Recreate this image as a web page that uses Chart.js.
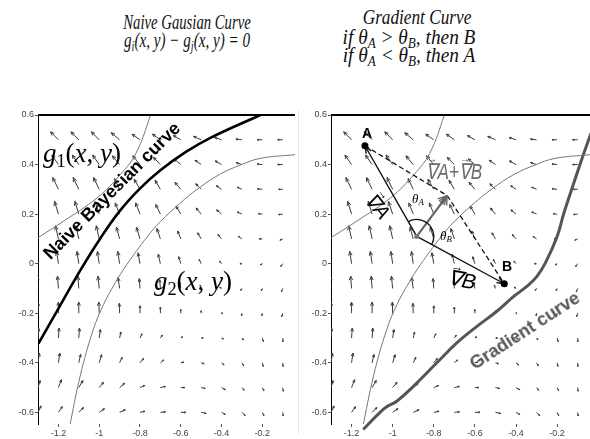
<!DOCTYPE html>
<html>
<head>
<meta charset="utf-8">
<script src="https://cdn.jsdelivr.net/npm/chart.js@4.4.0/dist/chart.umd.min.js"></script>
<style>
  html, body { margin: 0; padding: 0; background: #fff; }
  #page { position: relative; width: 590px; height: 439px; overflow: hidden; }
  canvas { position: absolute; top: 100px; }
  #naiveChart { left: 0; }
  #gradChart { left: 298px; }
  .divider { position: absolute; left: 298px; top: 110px; width: 1px; height: 324px; background: #e6e6e6; }
  .lbl { position: absolute; white-space: nowrap; transform-origin: 50% 50%; line-height: 1; }
  .title { font-family: "Liberation Serif", serif; font-style: italic; font-size: 21px; color: #111; }
  .math { font-family: "Liberation Serif", serif; color: #000; }
  .sub { font-size: 0.68em; position: relative; top: 0.28em; }
  .vec { position: relative; display: inline-block; }
  .vec::after { content: "\2192"; position: absolute; left: 0.08em; top: -0.58em; font-size: 0.6em; font-style: normal; }
</style>
</head>
<body>
<div id="page">
  <div class="lbl title" style="left:187px; top:22px; transform:translate(-50%,-50%) scaleX(0.70);">Naive Gausian Curve</div>
  <div class="lbl title" style="left:187px; top:40px; transform:translate(-50%,-50%) scaleX(0.72);"><i>g</i><span class="sub">i</span>(<i>x</i>, <i>y</i>) − <i>g</i><span class="sub">j</span>(<i>x</i>, <i>y</i>) = 0</div>

  <div class="lbl title" style="left:417px; top:17px; transform:translate(-50%,-50%) scaleX(0.82);">Gradient Curve</div>
  <div class="lbl title" style="left:409px; top:37px; transform:translate(-50%,-50%) scaleX(0.92);">if θ<span class="sub">A</span> &gt; θ<span class="sub">B</span>, then B</div>
  <div class="lbl title" style="left:409px; top:55px; transform:translate(-50%,-50%) scaleX(0.92);">if θ<span class="sub">A</span> &lt; θ<span class="sub">B</span>, then A</div>

  <canvas id="naiveChart" width="298" height="339"></canvas>
  <div class="divider"></div>
  <canvas id="gradChart" width="292" height="339"></canvas>

  <!-- left panel labels -->
  <div class="lbl math" style="left:82px; top:153px; font-size:27px; transform:translate(-50%,-50%);"><i>g</i><span class="sub" style="font-style:normal">1</span>(<i>x</i>, <i>y</i>)</div>
  <div class="lbl math" style="left:193px; top:281px; font-size:27px; transform:translate(-50%,-50%);"><i>g</i><span class="sub" style="font-style:normal">2</span>(<i>x</i>, <i>y</i>)</div>
  <div class="lbl" style="left:112px; top:191px; font:bold 18px 'Liberation Sans', Arial, sans-serif; color:#000; transform:translate(-50%,-50%) rotate(-45deg);">Naive Bayesian curve</div>

  <!-- right panel labels -->
  <div class="lbl" style="left:367px; top:133px; font:bold 14px 'Liberation Sans', Arial, sans-serif; transform:translate(-50%,-50%);">A</div>
  <div class="lbl" style="left:507px; top:266px; font:bold 14px 'Liberation Sans', Arial, sans-serif; transform:translate(-50%,-50%);">B</div>
  <div class="lbl" style="left:378px; top:206px; font:italic 20px 'Liberation Sans', Arial, sans-serif; transform:translate(-50%,-50%) rotate(52deg);"><span class="vec">∇</span>A</div>
  <div class="lbl" style="left:462px; top:280px; font:italic 21px 'Liberation Sans', Arial, sans-serif; transform:translate(-50%,-50%) rotate(10deg);"><span class="vec">∇</span>B</div>
  <div class="lbl" style="left:454px; top:172px; font:italic 22px 'Liberation Sans', Arial, sans-serif; color:#6a6a6a; transform:translate(-50%,-50%) scaleX(0.78);"><span class="vec">∇</span>A+<span class="vec">∇</span>B</div>
  <div class="lbl" style="left:418px; top:199px; font:italic 13px 'Liberation Serif', serif; transform:translate(-50%,-50%);">θ<span class="sub">A</span></div>
  <div class="lbl" style="left:446px; top:236px; font:italic 13px 'Liberation Serif', serif; transform:translate(-50%,-50%);">θ<span class="sub">B</span></div>
  <div class="lbl" style="left:525px; top:331px; font:bold 18px 'Liberation Sans', Arial, sans-serif; color:#555; transform:translate(-50%,-50%) rotate(-33deg);">Gradient curve</div>
</div>

<script>
// axis ticks
const xTicks = [-1.2, -1, -0.8, -0.6, -0.4, -0.2];
const yTicks = [-0.6, -0.4, -0.2, 0, 0.2, 0.4, 0.6];

// vector field grid (rows top to bottom)
const fieldX = [-1.3, -1.2, -1.1, -1.0, -0.9, -0.8, -0.7, -0.6, -0.5, -0.4, -0.3, -0.2, -0.1];
const fieldY = [0.6, 0.5, 0.4, 0.3, 0.2, 0.1, 0, -0.1, -0.2, -0.3, -0.4, -0.5, -0.6];

// arrow direction in degrees (0 = right, 90 = up)
const fieldAngle = [
  [130, 130, 135, 140, 145, 150, 155, 160, 165, 170, 175, 180, 180],
  [140, 140, 140, 140, 145, 150, 150, 155, 160, 165, 175, 180, 180],
  [130, 130, 130, 130, 135, 135, 140, 145, 150, 155, 165, 175, 180],
  [120, 120, 120, 120, 120, 125, 125, 135, 140, 150, 160, 175, 180],
  [110, 110, 110, 112, 115, 115, 120, 125, 135, 145, 160, 175, 185],
  [105, 105, 105, 105, 108, 110, 112, 115, 125, 135, 150, 180, 200],
  [100, 100, 100, 100, 100, 102, 105, 110, 120, 135, 180, 210, 230],
  [95, 95, 95, 97, 100, 95, 95, 100, 110, 150, 230, 240, 245],
  [90, 90, 90, 92, 92, 90, 90, 90, 90, 0, 260, 255, 250],
  [85, 85, 85, 80, 75, 60, 50, 30, 0, -20, -45, -70, -85],
  [80, 80, 75, 70, 60, 45, 35, 10, -15, -35, -55, -75, -85],
  [70, 65, 55, 45, 35, 20, 10, 0, -10, -25, -45, -60, -80],
  [60, 50, 40, 30, 20, 10, 5, 0, -10, -25, -40, -60, -80]
];

// arrow magnitude
const fieldLen = [
  [9, 9, 9, 9, 9, 8, 8, 7, 6, 6, 5, 5, 5],
  [10, 10, 10, 10, 10, 9, 9, 8, 8, 7, 6, 5, 5],
  [10, 10, 10, 10, 10, 10, 9, 8, 7, 7, 6, 5, 5],
  [11, 11, 11, 11, 10, 10, 9, 8, 7, 6, 5, 5, 4],
  [11, 11, 11, 11, 10, 10, 9, 8, 7, 6, 5, 4, 4],
  [11, 11, 11, 11, 10, 10, 9, 7, 6, 5, 4, 3, 3],
  [10, 10, 10, 10, 10, 9, 8, 6, 4, 3, 2, 2, 3],
  [10, 10, 10, 10, 9, 8, 7, 5, 3, 2, 2, 2, 3],
  [9, 9, 9, 9, 8, 6, 5, 3, 2, 1, 2, 2, 3],
  [8, 8, 8, 7, 5, 4, 3, 2, 2, 2, 2, 3, 3],
  [8, 8, 7, 7, 5, 5, 4, 3, 3, 3, 3, 3, 3],
  [6, 7, 7, 6, 6, 5, 5, 4, 4, 4, 3, 3, 3],
  [6, 6, 6, 6, 6, 5, 5, 5, 5, 4, 4, 3, 3]
];
const ARROW_SCALE = 0.005;

// class boundaries
const upperBoundary = [[-1.3, 0.105], [-1.174, 0.172], [-1.01, 0.266], [-0.896, 0.36], [-0.82, 0.445], [-0.748, 0.6], [-0.744, 0.62]];
const lowerBoundary = [[-1.148, -0.67], [-1.092, -0.449], [-1.029, -0.266], [-0.979, -0.165], [-0.921, -0.077], [-0.865, -0.004], [-0.765, 0.108], [-0.7, 0.17], [-0.602, 0.245], [-0.52, 0.3], [-0.41, 0.36], [-0.308, 0.398], [-0.21, 0.425], [-0.04, 0.44]];
const naiveCurve = [[-1.298, -0.323], [-1.2, -0.181], [-1.092, -0.026], [-0.994, 0.103], [-0.896, 0.216], [-0.798, 0.305], [-0.7, 0.377], [-0.577, 0.45], [-0.455, 0.508], [-0.21, 0.6]];
const gradientCurve = [[-1.143, -0.669], [-1.037, -0.582], [-0.98, -0.555], [-0.899, -0.495], [-0.785, -0.4], [-0.688, -0.32], [-0.59, -0.253], [-0.493, -0.192], [-0.411, -0.132], [-0.346, -0.091], [-0.298, -0.051], [-0.257, 0.003], [-0.2, 0.11], [-0.167, 0.204], [-0.119, 0.325], [-0.07, 0.446], [-0.029, 0.54]];

// gradient construction
const pointA = [-1.135, 0.476];
const pointB = [-0.457, -0.081];
const pointO = [-0.883, 0.11];
const sumTip = [-0.735, 0.275];

const toXY = pts => pts.map(([x, y]) => ({ x, y }));
const fmt = v => String(Math.round(v * 10) / 10);

function drawArrow(ctx, x0, y0, x1, y1, head, spread) {
  const ang = Math.atan2(y1 - y0, x1 - x0);
  ctx.beginPath();
  ctx.moveTo(x0, y0);
  ctx.lineTo(x1, y1);
  ctx.moveTo(x1 - head * Math.cos(ang - spread), y1 - head * Math.sin(ang - spread));
  ctx.lineTo(x1, y1);
  ctx.lineTo(x1 - head * Math.cos(ang + spread), y1 - head * Math.sin(ang + spread));
  ctx.stroke();
}

const quiverPlugin = {
  id: 'quiver',
  beforeDatasetsDraw(chart) {
    const { ctx, chartArea: a, scales: { x, y } } = chart;
    ctx.save();
    ctx.beginPath();
    ctx.rect(a.left, a.top, a.right - a.left, a.bottom - a.top);
    ctx.clip();
    ctx.strokeStyle = '#3a3a3a';
    ctx.lineWidth = 1;
    fieldY.forEach((fy, r) => {
      fieldX.forEach((fx, c) => {
        const rad = fieldAngle[r][c] * Math.PI / 180;
        const len = fieldLen[r][c] * ARROW_SCALE;
        const x0 = x.getPixelForValue(fx), y0 = y.getPixelForValue(fy);
        const x1 = x.getPixelForValue(fx + len * Math.cos(rad));
        const y1 = y.getPixelForValue(fy + len * Math.sin(rad));
        const l = Math.hypot(x1 - x0, y1 - y0);
        drawArrow(ctx, x0, y0, x1, y1, Math.max(1.5, l * 0.35), 0.4);
      });
    });
    ctx.restore();
  }
};

// top frame line
const framePlugin = {
  id: 'frame',
  afterDraw(chart) {
    const { ctx, chartArea: a } = chart;
    ctx.save();
    ctx.strokeStyle = '#000';
    ctx.lineWidth = 2;
    ctx.beginPath();
    ctx.moveTo(a.left, a.top);
    ctx.lineTo(a.right, a.top);
    ctx.stroke();
    ctx.restore();
  }
};

// vectors, angles and points on the gradient panel
const constructionPlugin = {
  id: 'construction',
  afterDatasetsDraw(chart) {
    const { ctx, scales: { x, y } } = chart;
    const px = p => [x.getPixelForValue(p[0]), y.getPixelForValue(p[1])];
    const [ax, ay] = px(pointA), [bx, by] = px(pointB), [ox, oy] = px(pointO), [sx, sy] = px(sumTip);
    ctx.save();

    // dashed parallelogram sides
    ctx.strokeStyle = '#111';
    ctx.lineWidth = 1.3;
    ctx.setLineDash([5, 3]);
    ctx.beginPath();
    ctx.moveTo(ax, ay); ctx.lineTo(sx, sy);
    ctx.moveTo(sx, sy); ctx.lineTo(bx, by);
    ctx.stroke();
    ctx.setLineDash([]);

    // gradient vectors
    ctx.lineWidth = 1.4;
    drawArrow(ctx, ox, oy, ax, ay, 8, 0.35);
    drawArrow(ctx, ox, oy, bx, by, 8, 0.35);

    // resulting vector with a starburst head
    ctx.strokeStyle = '#666';
    ctx.lineWidth = 2.2;
    const ang = Math.atan2(sy - oy, sx - ox);
    ctx.beginPath(); ctx.moveTo(ox, oy); ctx.lineTo(sx, sy); ctx.stroke();
    ctx.lineWidth = 1.3;
    [-0.6, -0.35, -0.15, 0.15, 0.35, 0.6].forEach(d => {
      ctx.beginPath();
      ctx.moveTo(sx, sy);
      ctx.lineTo(sx - 10 * Math.cos(ang + d), sy - 10 * Math.sin(ang + d));
      ctx.stroke();
    });

    // angle arc from grad A round to grad B
    ctx.strokeStyle = '#111';
    ctx.lineWidth = 1.3;
    ctx.beginPath();
    ctx.arc(ox, oy, 17, Math.atan2(ay - oy, ax - ox), Math.atan2(by - oy, bx - ox), false);
    ctx.stroke();

    // points
    ctx.fillStyle = '#000';
    [[ax, ay], [bx, by]].forEach(([cx, cy]) => {
      ctx.beginPath(); ctx.arc(cx, cy, 3.5, 0, Math.PI * 2); ctx.fill();
    });
    ctx.fillStyle = '#777';
    ctx.beginPath(); ctx.arc(ox, oy, 2.5, 0, Math.PI * 2); ctx.fill();
    ctx.restore();
  }
};

function scalesFor(yWidth) {
  const tickFont = { family: "'Liberation Sans', Arial, sans-serif", size: 9 };
  return {
    x: {
      type: 'linear', min: -1.3, max: -0.04,
      afterBuildTicks: s => { s.ticks = xTicks.map(v => ({ value: v })); },
      afterFit: s => { s.height = 15; },
      border: { display: false },
      grid: { drawOnChartArea: false, tickLength: 3, color: '#555' },
      ticks: { font: tickFont, color: '#444', padding: 1, maxRotation: 0, autoSkip: false, callback: fmt }
    },
    y: {
      type: 'linear', min: -0.647, max: 0.6,
      afterBuildTicks: s => { s.ticks = yTicks.map(v => ({ value: v })); },
      afterFit: s => { s.width = yWidth; },
      border: { display: true, color: '#000', width: 1 },
      grid: { drawOnChartArea: false, tickLength: 3, color: '#555' },
      ticks: { font: tickFont, color: '#444', padding: 1, autoSkip: false, callback: fmt }
    }
  };
}

function lineSet(points, color, width, clip) {
  return {
    data: toXY(points), showLine: true, pointRadius: 0, borderColor: color,
    borderWidth: width, tension: 0.4, fill: false, clip: clip || 0
  };
}

const baseOptions = {
  responsive: false,
  animation: false,
  events: [],
  plugins: { legend: { display: false }, tooltip: { enabled: false } }
};

// naive Bayes panel
new Chart(document.getElementById('naiveChart'), {
  type: 'scatter',
  data: {
    datasets: [
      lineSet(upperBoundary, '#777', 1),
      lineSet(lowerBoundary, '#777', 1),
      lineSet(naiveCurve, '#000', 2.6)
    ]
  },
  options: { ...baseOptions, layout: { padding: { top: 15, right: 3, left: 0, bottom: 0 } }, scales: scalesFor(38) },
  plugins: [quiverPlugin, framePlugin]
});

// gradient panel
new Chart(document.getElementById('gradChart'), {
  type: 'scatter',
  data: {
    datasets: [
      lineSet(upperBoundary, '#777', 1),
      lineSet(lowerBoundary, '#777', 1),
      lineSet(gradientCurve, '#555', 3, { left: 0, top: 0, right: 4, bottom: 8 })
    ]
  },
  options: { ...baseOptions, layout: { padding: { top: 15, right: 0, left: 0, bottom: 0 } }, scales: scalesFor(33) },
  plugins: [quiverPlugin, framePlugin, constructionPlugin]
});
</script>
</body>
</html>
